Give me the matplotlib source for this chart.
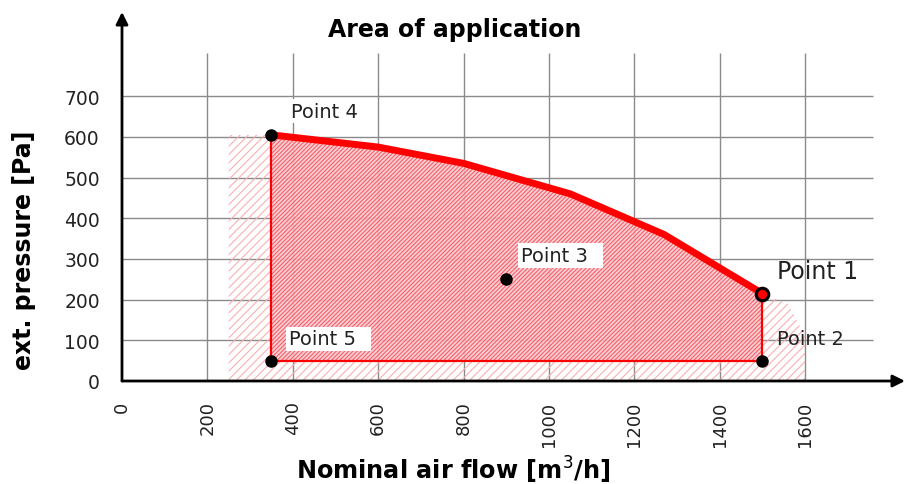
import matplotlib.pyplot as plt
import numpy as np

# --- Data ---
curve_x = [350, 600, 800, 1050, 1270, 1500]
curve_y = [605, 575, 535, 460, 360, 215]

points = {
    'Point 1': (1500, 215),
    'Point 2': (1500, 50),
    'Point 3': (900, 250),
    'Point 4': (350, 605),
    'Point 5': (350, 50),
}

x_ticks = [0, 200, 400, 600, 800, 1000, 1200, 1400, 1600]
y_ticks = [0, 100, 200, 300, 400, 500, 600, 700]

# outer (tolerance) envelope, lightly hatched
outer_x = [250, 250, 350] + curve_x[1:] + [1560, 1600, 1600]
outer_y = [0, 605, 605] + curve_y[1:] + [190, 110, 0]

plt.rcParams['hatch.linewidth'] = 0.8

fig = plt.figure(figsize=(9.06, 4.85), dpi=100)
W, H = 906, 485
ax = fig.add_axes([122 / W, 1 - 382 / H, (905 - 122) / W, (382 - 13) / H])
ax.set_xlim(0, 1834)
ax.set_ylim(0, 907)
for s in ax.spines.values():
    s.set_visible(False)

# grid
ax.vlines(x_ticks[1:], 0, 806, color='#8a8a8a', lw=1, zorder=1)
ax.hlines(y_ticks[1:], 0, 1759, color='#8a8a8a', lw=1, zorder=1)

# light hatch envelope
ax.fill(outer_x, outer_y, facecolor='none', edgecolor='#f7b0b0', hatch='////', lw=0, zorder=2)

# application area
area_x = [350] + curve_x + [1500, 350]
area_y = [50] + curve_y + [50, 50]
ax.fill(area_x, area_y, facecolor=(0.99, 0.78, 0.80, 0.85), edgecolor='none', zorder=2)
ax.fill(area_x, area_y, facecolor='none', edgecolor='#f5606c', hatch='////////', lw=0, zorder=2)

ax.plot([350, 350], [50, curve_y[0]], color='red', lw=1.6, zorder=3)
ax.plot([350, 1500], [50, 50], color='red', lw=1.6, zorder=3)
ax.plot([1500, 1500], [50, curve_y[-1]], color='red', lw=1.6, zorder=3)
ax.plot(curve_x, curve_y, color='red', lw=5, solid_capstyle='round', zorder=4)

# points
for name, (px, py) in points.items():
    if name == 'Point 1':
        ax.plot(px, py, 'o', ms=9, mfc='red', mec='black', mew=2.2, zorder=5)
    else:
        ax.plot(px, py, 'o', ms=8, color='black', zorder=5)

box = dict(facecolor='white', edgecolor='none', pad=2)
ax.text(395, 640, 'Point 4', fontsize=14, ha='left', va='bottom', color='#222222', bbox=box, zorder=6)
ax.text(935, 285, 'Point 3  ', fontsize=14, ha='left', va='bottom', color='#222222', bbox=box, zorder=6)
ax.text(390, 80, 'Point 5  ', fontsize=14, ha='left', va='bottom', color='#222222', bbox=box, zorder=6)
ax.text(1535, 240, 'Point 1', fontsize=17, ha='left', va='bottom', color='#222222', zorder=6)
ax.text(1535, 80, 'Point 2', fontsize=14, ha='left', va='bottom', color='#222222', zorder=6)

# axis arrows
arrow = dict(arrowstyle='-|>', color='black', lw=2, mutation_scale=18, shrinkA=0, shrinkB=0)
ax.annotate('', xy=(1834, 0), xytext=(0, 0), arrowprops=arrow, annotation_clip=False)
ax.annotate('', xy=(0, 907), xytext=(0, 0), arrowprops=arrow, annotation_clip=False)

ax.set_xticks(x_ticks)
ax.set_xticklabels([str(v) for v in x_ticks], rotation=90, fontsize=13, color='#222222')
ax.set_yticks(y_ticks)
ax.set_yticklabels([str(v) for v in y_ticks], fontsize=13.5, color='#222222')
ax.tick_params(length=0)
ax.tick_params(axis='x', pad=14)
ax.tick_params(axis='y', pad=16)

fig.text(455 / W, 1 - 30 / H, 'Area of application', fontsize=17, fontweight='bold',
         ha='center', va='center')
fig.text(24 / W, 1 - 250 / H, 'ext. pressure [Pa]', fontsize=17, fontweight='bold',
         rotation=90, ha='center', va='center')
fig.text(453 / W, 1 - 470 / H, 'Nominal air flow [m$^3$/h]', fontsize=17.3, fontweight='bold',
         ha='center', va='center')

fig.savefig('out.png', dpi=100)
